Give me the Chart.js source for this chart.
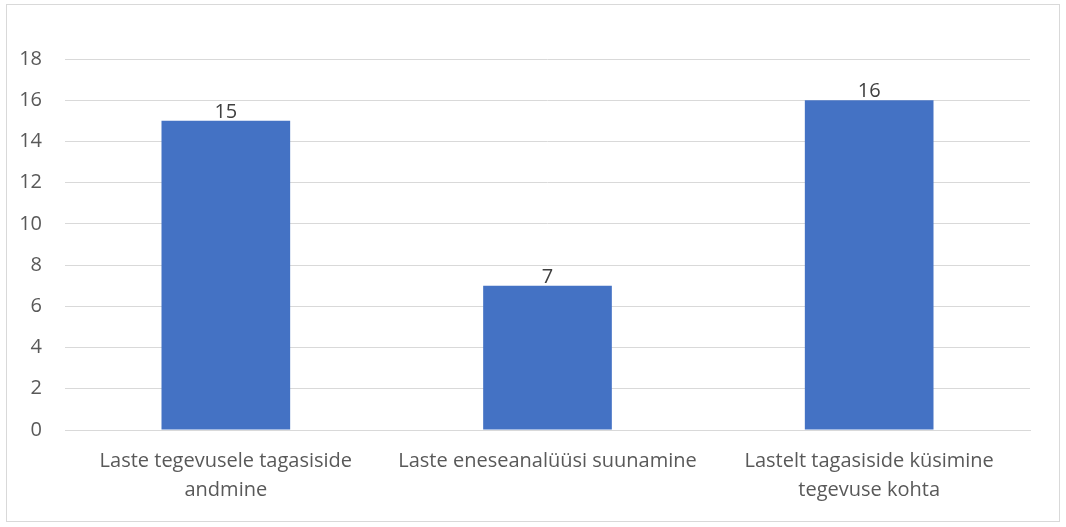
<!DOCTYPE html>
<html>
<head>
<meta charset="utf-8">
<script src="https://cdn.jsdelivr.net/npm/chart.js@4/dist/chart.umd.min.js"></script>
<style>
  html, body { margin: 0; padding: 0; background: #fff; }
  #frame { position: absolute; left: 6px; top: 4px; width: 1054px; height: 518px; border: 1px solid #d9d9d9; box-sizing: border-box; }
  #wrap { position: absolute; left: 0; top: 0; width: 1066px; height: 527px; }
</style>
</head>
<body>
<div id="frame"></div>
<div id="wrap"><canvas id="c" width="1066" height="527"></canvas></div>
<script>
const categories = [
  ["Laste tegevusele tagasiside", "andmine"],
  "Laste eneseanalüüsi suunamine",
  ["Lastelt tagasiside küsimine", "tegevuse kohta"]
];
const values = [15, 7, 16];
const yTicks = [0, 2, 4, 6, 8, 10, 12, 14, 16, 18];

const FONT = "'Open Sans', 'Liberation Sans', sans-serif";
const TEXT = '#595959';

// writes each bar's value just above its top
const valueLabels = {
  id: 'valueLabels',
  afterDatasetsDraw(chart) {
    const ctx = chart.ctx;
    const meta = chart.getDatasetMeta(0);
    ctx.save();
    ctx.font = '20px ' + FONT;
    ctx.fillStyle = '#404040';
    ctx.textAlign = 'center';
    ctx.textBaseline = 'alphabetic';
    meta.data.forEach((bar, i) => {
      ctx.fillText(String(values[i]), bar.x, bar.y - 3);
    });
    ctx.restore();
  }
};

new Chart(document.getElementById('c'), {
  type: 'bar',
  data: {
    labels: categories,
    datasets: [{
      data: values,
      backgroundColor: '#4472c4',
      borderWidth: 0,
      categoryPercentage: 1,
      barPercentage: 0.4
    }]
  },
  options: {
    responsive: false,
    animation: false,
    layout: { padding: { top: 59, right: 36, left: 0, bottom: 0 } },
    plugins: { legend: { display: false }, tooltip: { enabled: false } },
    scales: {
      x: {
        grid: { display: false, drawTicks: false },
        border: { display: true, color: '#d9d9d9', width: 1 },
        ticks: { color: TEXT, font: { family: FONT, size: 20, lineHeight: 1.45 }, padding: 17, maxRotation: 0, autoSkip: false },
        afterFit(scale) { scale.height = 97; }
      },
      y: {
        min: 0,
        max: 18,
        afterBuildTicks(scale) { scale.ticks = yTicks.map(v => ({ value: v })); },
        grid: { color: '#d9d9d9', drawTicks: false },
        border: { display: false },
        ticks: { color: TEXT, font: { family: FONT, size: 20 }, padding: 23 },
        afterFit(scale) { scale.width = 65; }
      }
    }
  },
  plugins: [valueLabels]
});
</script>
</body>
</html>
